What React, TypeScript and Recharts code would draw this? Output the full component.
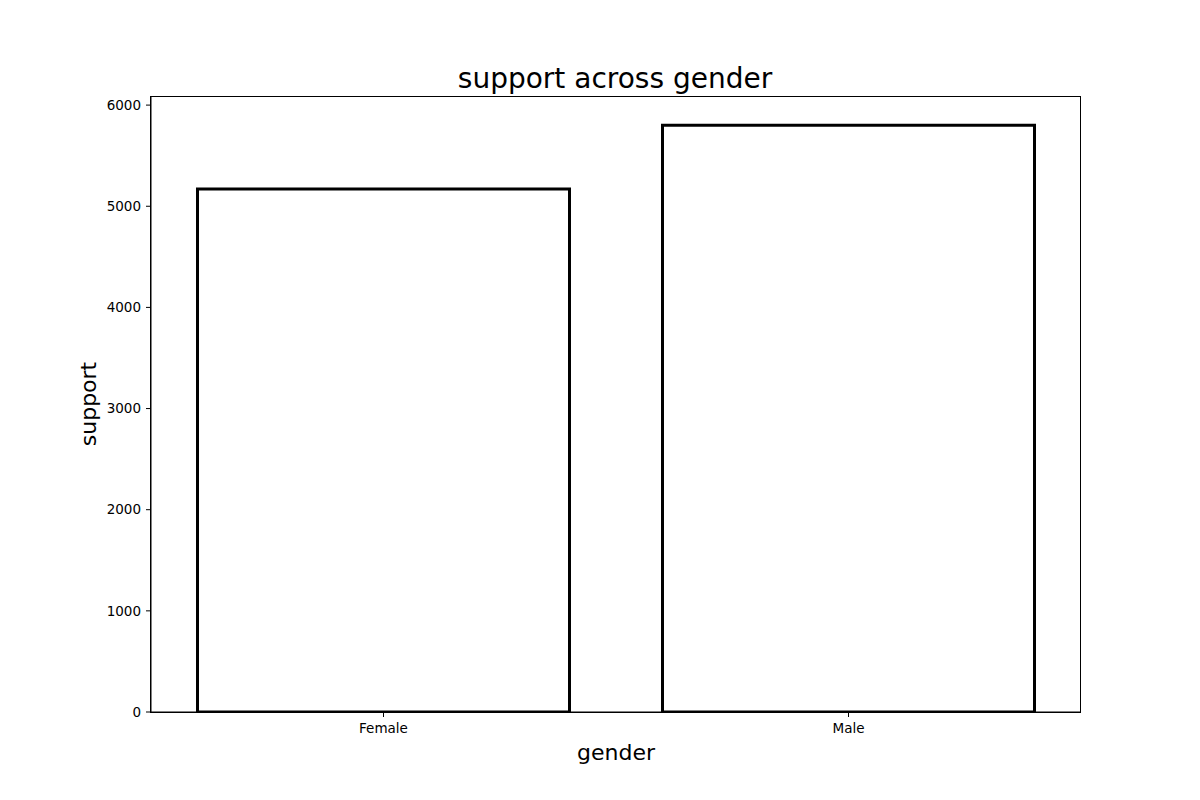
import React from "react";
import { BarChart, Bar, XAxis, YAxis, Label } from "recharts";

const categories = ["Female", "Male"];
const supportValues = [5170, 5800];
const yTicks = [0, 1000, 2000, 3000, 4000, 5000, 6000];

const data = categories.map((c, i) => ({ gender: c, support: supportValues[i] }));

const font = "DejaVu Sans, sans-serif";
const titleText = "support across gender";

export default function App() {
  return (
    <div style={{ position: "absolute", left: 0, top: 0, width: 1200, height: 800, background: "#fff" }}>
      <div
        style={{
          position: "absolute",
          left: 150,
          width: 930,
          top: 61,
          textAlign: "center",
          fontFamily: font,
          fontSize: 28,
          lineHeight: "36px",
          color: "#000",
        }}
      >
        {titleText}
      </div>
      <BarChart
        width={1200}
        height={800}
        data={data}
        margin={{ top: 96, right: 119, bottom: 0, left: 91 }}
        barCategoryGap="10%"
      >
        <XAxis
          dataKey="gender"
          stroke="#000"
          tickLine={{ stroke: "#000" }}
          tickSize={5}
          tickMargin={6}
          height={88}
          tick={{ fill: "#000", fontSize: 13.5, fontFamily: font }}
          interval={0}
        >
          <Label value="gender" position="insideTop" offset={32} style={{ fill: "#000", fontSize: 22, fontFamily: font }} />
        </XAxis>
        <YAxis
          domain={[0, 6090]}
          ticks={yTicks}
          allowDataOverflow
          width={60}
          stroke="#000"
          tickSize={5}
          tickMargin={5}
          tick={{ fill: "#000", fontSize: 13.5, fontFamily: font }}
        >
          <Label value="support" angle={-90} position="insideLeft" offset={-3} style={{ fill: "#000", fontSize: 22, fontFamily: font, textAnchor: "middle" }} />
        </YAxis>
        <Bar
          dataKey="support"
          fill="#fff"
          stroke="#000"
          strokeWidth={3}
          isAnimationActive={false}
        />
      </BarChart>
      <div
        style={{
          position: "absolute",
          left: 150,
          top: 96,
          width: 931,
          height: 617,
          border: "1px solid #000",
          boxSizing: "border-box",
          pointerEvents: "none",
        }}
      />
    </div>
  );
}
